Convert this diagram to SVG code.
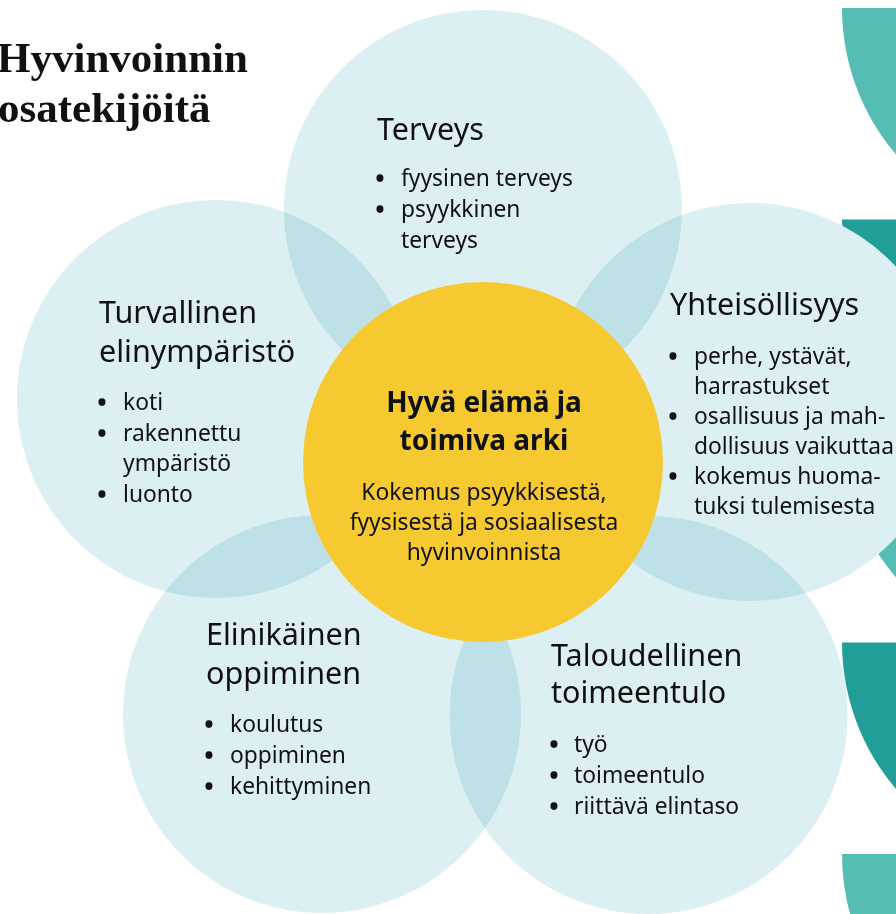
<svg xmlns="http://www.w3.org/2000/svg" width="896" height="914" viewBox="0 0 896 914">
<style>
.petal{fill:#DCF0F3;mix-blend-mode:multiply}
.tl{fill:#55BDB4}
.td{fill:#229E98}
.h{font-family:"Noto Sans","Open Sans",sans-serif;font-size:30.5px;fill:#111}
.b{font-family:"Noto Sans","Open Sans",sans-serif;font-size:22.8px;fill:#111}
.c{font-family:"Noto Sans","Open Sans",sans-serif;font-size:28px;font-weight:bold;fill:#111;text-anchor:middle}
.cs{font-family:"Noto Sans","Open Sans",sans-serif;font-size:22.8px;fill:#111;text-anchor:middle}
.dot{text-anchor:middle;font-weight:bold;font-size:25px}
.title{font-family:"Liberation Serif","Times New Roman",serif;font-size:43px;font-weight:bold;fill:#111}
</style>
<rect width="896" height="914" fill="#fff"/>
<g id="decor">
<path class="tl" d="M842,8 A226,226 0 0 0 1068,234 L1068,8 Z"/>
<path class="td" d="M842,219.5 A226,226 0 0 0 1068,445.5 L1068,219.5 Z"/>
<path class="tl" d="M842,431 A226,226 0 0 0 1068,657 L1068,431 Z"/>
<path class="td" d="M842,642.5 A226,226 0 0 0 1068,868.5 L1068,642.5 Z"/>
<path class="tl" d="M842,854 A226,226 0 0 0 1068,1080 L1068,854 Z"/>
</g>
<g id="title">
<text class="title" x="-3" y="72">Hyvinvoinnin</text>
<text class="title" x="-2" y="122">osatekijöitä</text>
</g>
<g id="petals" style="isolation:isolate">
<g id="terveys">
<circle class="petal" cx="483" cy="209" r="199"/>
<text class="h" x="377" y="140">Terveys</text>
<text class="b dot" x="380" y="187">•</text>
<text class="b" x="401" y="186">fyysinen terveys</text>
<text class="b dot" x="380" y="218">•</text>
<text class="b" x="401" y="217">psyykkinen</text>
<text class="b" x="401" y="248">terveys</text>
</g>
<g id="yhteisollisyys">
<circle class="petal" cx="750" cy="402" r="199"/>
<text class="h" x="670" y="315">Yhteisöllisyys</text>
<text class="b dot" x="673" y="365">•</text>
<text class="b" x="694" y="364">perhe, ystävät,</text>
<text class="b" x="694" y="394">harrastukset</text>
<text class="b dot" x="673" y="425">•</text>
<text class="b" x="694" y="424">osallisuus ja mah-</text>
<text class="b" x="694" y="454">dollisuus vaikuttaa</text>
<text class="b dot" x="673" y="485">•</text>
<text class="b" x="694" y="484">kokemus huoma-</text>
<text class="b" x="694" y="514">tuksi tulemisesta</text>
</g>
<g id="taloudellinen">
<circle class="petal" cx="648.5" cy="715" r="199"/>
<text class="h" x="551" y="666">Taloudellinen</text>
<text class="h" x="551" y="703">toimeentulo</text>
<text class="b dot" x="554" y="753">•</text>
<text class="b" x="574" y="752">työ</text>
<text class="b dot" x="554" y="784">•</text>
<text class="b" x="574" y="783">toimeentulo</text>
<text class="b dot" x="554" y="815">•</text>
<text class="b" x="574" y="814">riittävä elintaso</text>
</g>
<g id="elinikainen">
<circle class="petal" cx="322" cy="714" r="199"/>
<text class="h" x="206" y="645">Elinikäinen</text>
<text class="h" x="206" y="684">oppiminen</text>
<text class="b dot" x="209" y="733">•</text>
<text class="b" x="230" y="732">koulutus</text>
<text class="b dot" x="209" y="764">•</text>
<text class="b" x="230" y="763">oppiminen</text>
<text class="b dot" x="209" y="795">•</text>
<text class="b" x="230" y="794">kehittyminen</text>
</g>
<g id="turvallinen">
<circle class="petal" cx="216" cy="399" r="199"/>
<text class="h" x="99" y="323">Turvallinen</text>
<text class="h" x="99" y="362">elinympäristö</text>
<text class="b dot" x="102" y="411">•</text>
<text class="b" x="123" y="410">koti</text>
<text class="b dot" x="102" y="442">•</text>
<text class="b" x="123" y="441">rakennettu</text>
<text class="b" x="123" y="471">ympäristö</text>
<text class="b dot" x="102" y="503">•</text>
<text class="b" x="123" y="502">luonto</text>
</g>
</g>
<g id="center">
<circle cx="483" cy="462" r="180" fill="#F6C930"/>
<text class="c" x="484" y="412">Hyvä elämä ja</text>
<text class="c" x="484" y="450">toimiva arki</text>
<text class="cs" x="484" y="500">Kokemus psyykkisestä,</text>
<text class="cs" x="484" y="530">fyysisestä ja sosiaalisesta</text>
<text class="cs" x="484" y="560">hyvinvoinnista</text>
</g>
</svg>
